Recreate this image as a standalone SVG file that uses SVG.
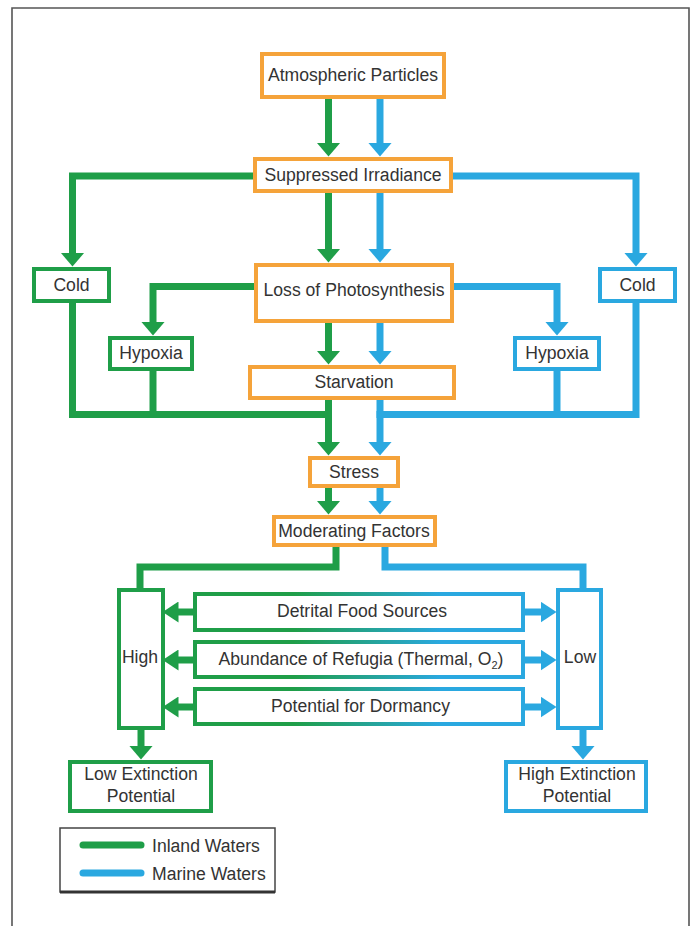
<svg xmlns="http://www.w3.org/2000/svg" width="692" height="926" viewBox="0 0 692 926">
<defs>
<style>
.box{fill:#fff;stroke:#f5a33a;stroke-width:4}
.gbox{fill:#fff;stroke:#1f9e48;stroke-width:4}
.bbox{fill:#fff;stroke:#2aa8e0;stroke-width:4}
.mbox{fill:#fff;stroke:url(#gb);stroke-width:4}
.t{font-family:"Liberation Sans",Arial,sans-serif;font-size:17.6px;fill:#333;text-anchor:middle}
.lt{font-family:"Liberation Sans",Arial,sans-serif;font-size:17.6px;fill:#333}
.g{fill:none;stroke:#1f9e48;stroke-width:7}
.b{fill:none;stroke:#2aa8e0;stroke-width:7}
.ga{marker-end:url(#ag)}
.ba{marker-end:url(#ab)}
.gh{marker-end:url(#agh)}
.bh{marker-end:url(#abh)}
</style>
<linearGradient id="gb" x1="0" y1="0" x2="1" y2="0">
<stop offset="0" stop-color="#1f9e48"/>
<stop offset="0.3" stop-color="#1f9e48"/>
<stop offset="0.75" stop-color="#2aa8e0"/>
<stop offset="1" stop-color="#2aa8e0"/>
</linearGradient>
<marker id="ag" viewBox="0 0 14 24" refX="0.5" refY="12" markerWidth="14" markerHeight="24" markerUnits="userSpaceOnUse" orient="auto"><path d="M0,0 L14,12 L0,24 z" fill="#1f9e48"/></marker>
<marker id="ab" viewBox="0 0 14 24" refX="0.5" refY="12" markerWidth="14" markerHeight="24" markerUnits="userSpaceOnUse" orient="auto"><path d="M0,0 L14,12 L0,24 z" fill="#2aa8e0"/></marker>
<marker id="agh" viewBox="0 0 16 21" refX="0.5" refY="10.5" markerWidth="16" markerHeight="21" markerUnits="userSpaceOnUse" orient="auto"><path d="M0,0 L16,10.5 L0,21 z" fill="#1f9e48"/></marker>
<marker id="abh" viewBox="0 0 16 21" refX="0.5" refY="10.5" markerWidth="16" markerHeight="21" markerUnits="userSpaceOnUse" orient="auto"><path d="M0,0 L16,10.5 L0,21 z" fill="#2aa8e0"/></marker>
</defs>
<rect width="692" height="926" fill="#fff"/>
<path d="M12,926 V8 H689 V926" fill="none" stroke="#555" stroke-width="1.6"/>

<g id="connectors">
<path class="g ga" d="M328.5,99 V143"/>
<path class="b ba" d="M380,99 V143"/>
<path class="g ga" d="M328.5,193 V249"/>
<path class="b ba" d="M380,193 V249"/>
<path class="g ga" d="M253,176 H72.5 V253"/>
<path class="b ba" d="M453,176 H636 V253"/>
<path class="g ga" d="M254,286.5 H153 V322"/>
<path class="b ba" d="M454,286.5 H557 V322"/>
<path class="g ga" d="M328.5,323 V351"/>
<path class="b ba" d="M380,323 V351"/>
<path class="g ga" d="M328.5,400 V442"/>
<path class="b ba" d="M380,400 V442"/>
<path class="g" d="M72.5,303 V414.5 H332"/>
<path class="g" d="M153,371 V414.5"/>
<path class="b" d="M636,303 V414.5 H376.5"/>
<path class="b" d="M557,371 V414.5"/>
<path class="g ga" d="M328.5,488 V501"/>
<path class="b ba" d="M380,488 V501"/>
<path class="g" d="M336,547 V567 H140 V588"/>
<path class="b" d="M385,547 V567 H583 V588"/>
<path class="g gh" d="M194,612 H178"/>
<path class="g gh" d="M194,660 H178"/>
<path class="g gh" d="M194,707 H178"/>
<path class="b bh" d="M524,612 H541"/>
<path class="b bh" d="M524,660 H541"/>
<path class="b bh" d="M524,707 H541"/>
<path class="g ga" d="M141,730 V746"/>
<path class="b ba" d="M583,730 V746"/>
</g>

<g id="atmospheric-particles"><rect class="box" x="262" y="54" width="182" height="43"/><text class="t" x="353" y="81">Atmospheric Particles</text></g>
<g id="suppressed-irradiance"><rect class="box" x="255" y="159" width="196" height="32"/><text class="t" x="353" y="181">Suppressed Irradiance</text></g>
<g id="cold-inland"><rect class="gbox" x="34" y="269" width="75" height="32"/><text class="t" x="71.5" y="291">Cold</text></g>
<g id="cold-marine"><rect class="bbox" x="600" y="269" width="75" height="32"/><text class="t" x="637.5" y="291">Cold</text></g>
<g id="loss-of-photosynthesis"><rect class="box" x="256" y="265" width="196" height="56"/><text class="t" x="354" y="296">Loss of Photosynthesis</text></g>
<g id="hypoxia-inland"><rect class="gbox" x="110" y="338" width="82" height="31"/><text class="t" x="151" y="359">Hypoxia</text></g>
<g id="hypoxia-marine"><rect class="bbox" x="515" y="338" width="84" height="31"/><text class="t" x="557" y="359">Hypoxia</text></g>
<g id="starvation"><rect class="box" x="250" y="367" width="204" height="31"/><text class="t" x="354" y="388">Starvation</text></g>
<g id="stress"><rect class="box" x="310" y="458" width="88" height="28"/><text class="t" x="354" y="478">Stress</text></g>
<g id="moderating-factors"><rect class="box" x="274" y="517" width="161" height="28"/><text class="t" x="354" y="537">Moderating Factors</text></g>
<g id="high"><rect class="gbox" x="119" y="590" width="44" height="138"/><text class="t" x="140" y="663">High</text></g>
<g id="low"><rect class="bbox" x="558" y="590" width="43" height="138"/><text class="t" x="580" y="663">Low</text></g>
<g id="detrital-food-sources"><rect class="mbox" x="195" y="594" width="328" height="36"/><text class="t" x="362" y="617">Detrital Food Sources</text></g>
<g id="abundance-of-refugia"><rect class="mbox" x="195" y="642" width="328" height="35"/><text class="t" x="361" y="665">Abundance of Refugia (Thermal, O<tspan font-size="11" dy="4">2</tspan><tspan dy="-4">)</tspan></text></g>
<g id="potential-for-dormancy"><rect class="mbox" x="195" y="689" width="328" height="35"/><text class="t" x="360.5" y="712">Potential for Dormancy</text></g>
<g id="low-extinction-potential"><rect class="gbox" x="70" y="762" width="141" height="49"/><text class="t" x="141" y="780">Low Extinction</text><text class="t" x="141" y="802">Potential</text></g>
<g id="high-extinction-potential"><rect class="bbox" x="506" y="762" width="140" height="49"/><text class="t" x="577" y="780">High Extinction</text><text class="t" x="577" y="802">Potential</text></g>
<g id="legend">
<rect x="60" y="828" width="215" height="64" fill="#fff" stroke="#444" stroke-width="1.5"/>
<path d="M60,892 H275" stroke="#333" stroke-width="3"/>
<path d="M83,845 H141" stroke="#1f9e48" stroke-width="7" stroke-linecap="round"/>
<path d="M83,873 H141" stroke="#2aa8e0" stroke-width="7" stroke-linecap="round"/>
<text class="lt" x="152" y="852">Inland Waters</text>
<text class="lt" x="152" y="880">Marine Waters</text>
</g>
</svg>
